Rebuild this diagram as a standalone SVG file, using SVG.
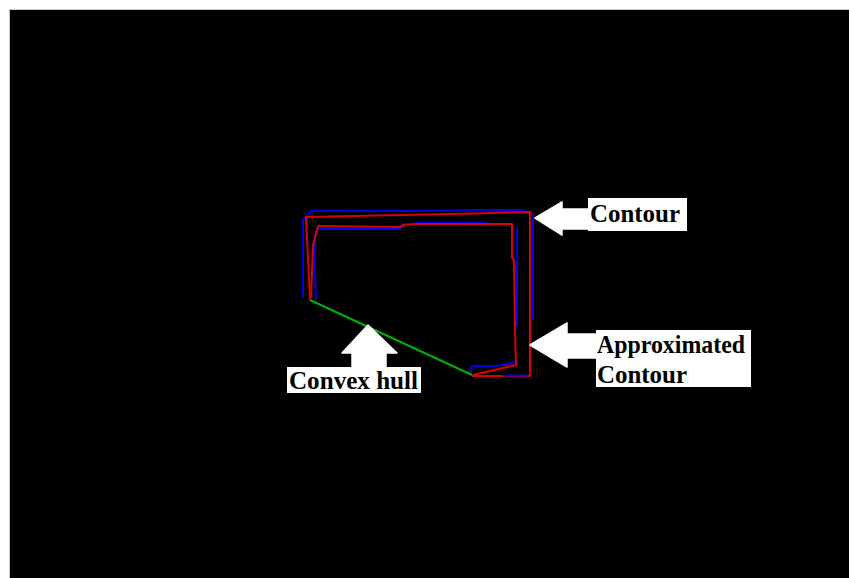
<svg xmlns="http://www.w3.org/2000/svg" width="849" height="578" viewBox="0 0 849 578">
<style>
.red{fill:none;stroke:#dc0000;stroke-width:2;stroke-linejoin:round}
.blue{fill:none;stroke:#0000e0;stroke-width:2;stroke-linejoin:round}
.green{fill:none;stroke:#00b000;stroke-width:2}
.box{fill:#ffffff}
.arrow{fill:#ffffff;stroke:#ffffff;stroke-width:1.5;stroke-linejoin:round}
.lbl{font-family:"Liberation Serif","Times New Roman",serif;font-weight:bold;font-size:25px;fill:#000000}
</style>
<rect x="0" y="0" width="849" height="578" fill="#ffffff"/>
<rect x="10" y="10" width="839" height="568" fill="#000000"/>
<line x1="9.5" y1="9.5" x2="849" y2="9.5" stroke="#c8c8c8" stroke-width="1"/>
<line x1="9.5" y1="9.5" x2="9.5" y2="578" stroke="#c8c8c8" stroke-width="1"/>
<g id="shapes">
<polyline class="blue" points="303,298 303,220 311,211 427,211 475,210 521,210 533,214 533,320"/>
<polyline class="blue" points="316,300 314,245 317,229 400,229 403,224 415,224 416,223 487,223"/>
<polyline class="blue" points="517,228 517,327"/>
<polyline class="red" points="310,300 308,258 306,217 427,214.5 475,213.5 530,212 530,376 472,376"/>
<polyline class="red" points="311,298 313,245 318,226 400,227 404,225 415,224 512,224 512,258 514,260 515,330 516,365 473,375"/>
<polyline class="blue" points="470,373 472,366 495,366 507,364 515,362"/>
<polyline class="blue" points="503,375.5 527,375.5"/>
<line class="green" x1="310" y1="300" x2="472" y2="375"/>
</g>
<g id="connectors">
<polygon class="arrow" points="535,218 562,202 562,209 589,209 589,229 562,229 562,235"/>
<polygon class="arrow" points="530,345 567,323 567,334 597,334 597,358 567,358 567,367"/>
<polygon class="arrow" points="368,325 397,353 386,353 386,368 352,368 352,353 342,353"/>
</g>
<g id="label-contour">
<rect class="box" x="588" y="198" width="99" height="33"/>
<text class="lbl" x="590" y="222" textLength="90" lengthAdjust="spacingAndGlyphs">Contour</text>
</g>
<g id="label-approximated">
<rect class="box" x="596" y="330" width="155" height="57"/>
<text class="lbl" x="597" y="353" textLength="148" lengthAdjust="spacingAndGlyphs">Approximated</text>
<text class="lbl" x="597" y="383" textLength="90" lengthAdjust="spacingAndGlyphs">Contour</text>
</g>
<g id="label-hull">
<rect class="box" x="287" y="367" width="134" height="26"/>
<text class="lbl" x="289" y="389" textLength="129" lengthAdjust="spacingAndGlyphs">Convex hull</text>
</g>
</svg>
